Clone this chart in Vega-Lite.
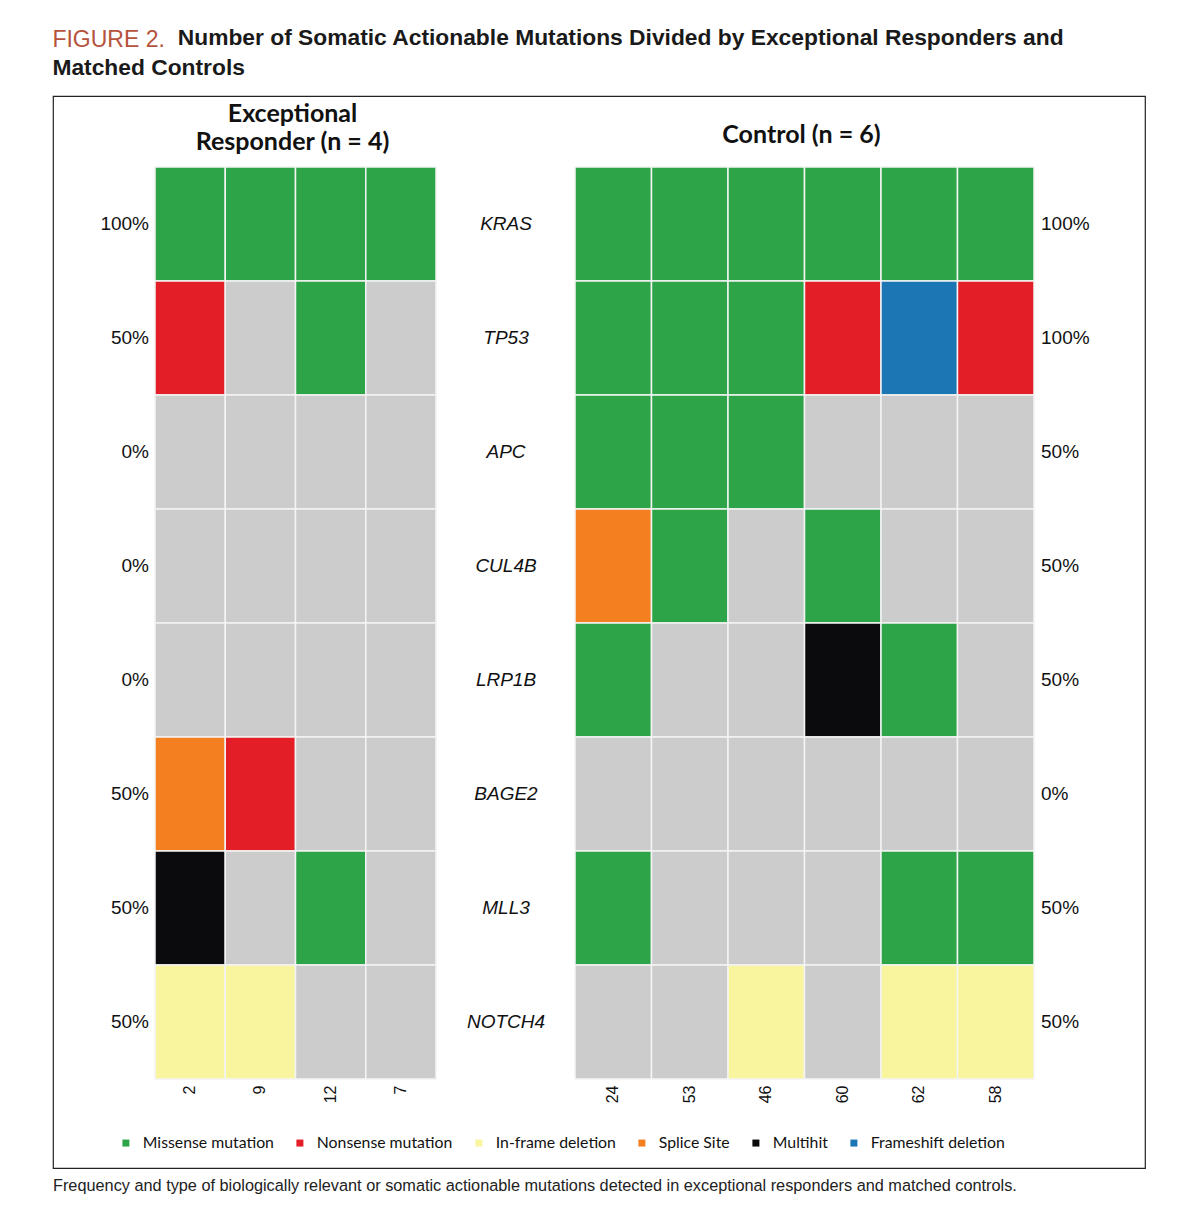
{
  "$schema": "https://vega.github.io/schema/vega-lite/v6.json",
  "background": "white",
  "padding": {"left": 52, "top": 26, "right": 0, "bottom": 0},
  "datasets": {
    "cells": [
      {"group": "ER", "patient": "2", "gene": "KRAS", "type": "Missense mutation"},
      {"group": "ER", "patient": "9", "gene": "KRAS", "type": "Missense mutation"},
      {"group": "ER", "patient": "12", "gene": "KRAS", "type": "Missense mutation"},
      {"group": "ER", "patient": "7", "gene": "KRAS", "type": "Missense mutation"},
      {"group": "ER", "patient": "2", "gene": "TP53", "type": "Nonsense mutation"},
      {"group": "ER", "patient": "9", "gene": "TP53", "type": "None"},
      {"group": "ER", "patient": "12", "gene": "TP53", "type": "Missense mutation"},
      {"group": "ER", "patient": "7", "gene": "TP53", "type": "None"},
      {"group": "ER", "patient": "2", "gene": "APC", "type": "None"},
      {"group": "ER", "patient": "9", "gene": "APC", "type": "None"},
      {"group": "ER", "patient": "12", "gene": "APC", "type": "None"},
      {"group": "ER", "patient": "7", "gene": "APC", "type": "None"},
      {"group": "ER", "patient": "2", "gene": "CUL4B", "type": "None"},
      {"group": "ER", "patient": "9", "gene": "CUL4B", "type": "None"},
      {"group": "ER", "patient": "12", "gene": "CUL4B", "type": "None"},
      {"group": "ER", "patient": "7", "gene": "CUL4B", "type": "None"},
      {"group": "ER", "patient": "2", "gene": "LRP1B", "type": "None"},
      {"group": "ER", "patient": "9", "gene": "LRP1B", "type": "None"},
      {"group": "ER", "patient": "12", "gene": "LRP1B", "type": "None"},
      {"group": "ER", "patient": "7", "gene": "LRP1B", "type": "None"},
      {"group": "ER", "patient": "2", "gene": "BAGE2", "type": "Splice Site"},
      {"group": "ER", "patient": "9", "gene": "BAGE2", "type": "Nonsense mutation"},
      {"group": "ER", "patient": "12", "gene": "BAGE2", "type": "None"},
      {"group": "ER", "patient": "7", "gene": "BAGE2", "type": "None"},
      {"group": "ER", "patient": "2", "gene": "MLL3", "type": "Multihit"},
      {"group": "ER", "patient": "9", "gene": "MLL3", "type": "None"},
      {"group": "ER", "patient": "12", "gene": "MLL3", "type": "Missense mutation"},
      {"group": "ER", "patient": "7", "gene": "MLL3", "type": "None"},
      {"group": "ER", "patient": "2", "gene": "NOTCH4", "type": "In-frame deletion"},
      {"group": "ER", "patient": "9", "gene": "NOTCH4", "type": "In-frame deletion"},
      {"group": "ER", "patient": "12", "gene": "NOTCH4", "type": "None"},
      {"group": "ER", "patient": "7", "gene": "NOTCH4", "type": "None"},

      {"group": "Control", "patient": "24", "gene": "KRAS", "type": "Missense mutation"},
      {"group": "Control", "patient": "53", "gene": "KRAS", "type": "Missense mutation"},
      {"group": "Control", "patient": "46", "gene": "KRAS", "type": "Missense mutation"},
      {"group": "Control", "patient": "60", "gene": "KRAS", "type": "Missense mutation"},
      {"group": "Control", "patient": "62", "gene": "KRAS", "type": "Missense mutation"},
      {"group": "Control", "patient": "58", "gene": "KRAS", "type": "Missense mutation"},
      {"group": "Control", "patient": "24", "gene": "TP53", "type": "Missense mutation"},
      {"group": "Control", "patient": "53", "gene": "TP53", "type": "Missense mutation"},
      {"group": "Control", "patient": "46", "gene": "TP53", "type": "Missense mutation"},
      {"group": "Control", "patient": "60", "gene": "TP53", "type": "Nonsense mutation"},
      {"group": "Control", "patient": "62", "gene": "TP53", "type": "Frameshift deletion"},
      {"group": "Control", "patient": "58", "gene": "TP53", "type": "Nonsense mutation"},
      {"group": "Control", "patient": "24", "gene": "APC", "type": "Missense mutation"},
      {"group": "Control", "patient": "53", "gene": "APC", "type": "Missense mutation"},
      {"group": "Control", "patient": "46", "gene": "APC", "type": "Missense mutation"},
      {"group": "Control", "patient": "60", "gene": "APC", "type": "None"},
      {"group": "Control", "patient": "62", "gene": "APC", "type": "None"},
      {"group": "Control", "patient": "58", "gene": "APC", "type": "None"},
      {"group": "Control", "patient": "24", "gene": "CUL4B", "type": "Splice Site"},
      {"group": "Control", "patient": "53", "gene": "CUL4B", "type": "Missense mutation"},
      {"group": "Control", "patient": "46", "gene": "CUL4B", "type": "None"},
      {"group": "Control", "patient": "60", "gene": "CUL4B", "type": "Missense mutation"},
      {"group": "Control", "patient": "62", "gene": "CUL4B", "type": "None"},
      {"group": "Control", "patient": "58", "gene": "CUL4B", "type": "None"},
      {"group": "Control", "patient": "24", "gene": "LRP1B", "type": "Missense mutation"},
      {"group": "Control", "patient": "53", "gene": "LRP1B", "type": "None"},
      {"group": "Control", "patient": "46", "gene": "LRP1B", "type": "None"},
      {"group": "Control", "patient": "60", "gene": "LRP1B", "type": "Multihit"},
      {"group": "Control", "patient": "62", "gene": "LRP1B", "type": "Missense mutation"},
      {"group": "Control", "patient": "58", "gene": "LRP1B", "type": "None"},
      {"group": "Control", "patient": "24", "gene": "BAGE2", "type": "None"},
      {"group": "Control", "patient": "53", "gene": "BAGE2", "type": "None"},
      {"group": "Control", "patient": "46", "gene": "BAGE2", "type": "None"},
      {"group": "Control", "patient": "60", "gene": "BAGE2", "type": "None"},
      {"group": "Control", "patient": "62", "gene": "BAGE2", "type": "None"},
      {"group": "Control", "patient": "58", "gene": "BAGE2", "type": "None"},
      {"group": "Control", "patient": "24", "gene": "MLL3", "type": "Missense mutation"},
      {"group": "Control", "patient": "53", "gene": "MLL3", "type": "None"},
      {"group": "Control", "patient": "46", "gene": "MLL3", "type": "None"},
      {"group": "Control", "patient": "60", "gene": "MLL3", "type": "None"},
      {"group": "Control", "patient": "62", "gene": "MLL3", "type": "Missense mutation"},
      {"group": "Control", "patient": "58", "gene": "MLL3", "type": "Missense mutation"},
      {"group": "Control", "patient": "24", "gene": "NOTCH4", "type": "None"},
      {"group": "Control", "patient": "53", "gene": "NOTCH4", "type": "None"},
      {"group": "Control", "patient": "46", "gene": "NOTCH4", "type": "In-frame deletion"},
      {"group": "Control", "patient": "60", "gene": "NOTCH4", "type": "None"},
      {"group": "Control", "patient": "62", "gene": "NOTCH4", "type": "In-frame deletion"},
      {"group": "Control", "patient": "58", "gene": "NOTCH4", "type": "In-frame deletion"}
    ],
    "genes": [
      {"gene": "KRAS", "er": "100%", "ctrl": "100%"},
      {"gene": "TP53", "er": "50%", "ctrl": "100%"},
      {"gene": "APC", "er": "0%", "ctrl": "50%"},
      {"gene": "CUL4B", "er": "0%", "ctrl": "50%"},
      {"gene": "LRP1B", "er": "0%", "ctrl": "50%"},
      {"gene": "BAGE2", "er": "50%", "ctrl": "0%"},
      {"gene": "MLL3", "er": "50%", "ctrl": "50%"},
      {"gene": "NOTCH4", "er": "50%", "ctrl": "50%"}
    ],
    "headers": [
      {"group": "ER", "label": "Exceptional\nResponder (n = 4)"},
      {"group": "Control", "label": "Control (n = 6)"}
    ]
  },
  "title": {
    "text": "FIGURE 2.",
    "subtitle": ["\u200b\u2002\u2002\u2002\u2002\u2002\u2002\u2002\u2002\u2002\u2002\u2002Number of Somatic Actionable Mutations Divided by Exceptional Responders and", "Matched Controls"],
    "anchor": "start",
    "font": "Liberation Sans",
    "fontSize": 23,
    "fontWeight": "normal",
    "color": "#b5533c",
    "subtitleFont": "Liberation Sans",
    "subtitleFontSize": 22.8,
    "subtitleFontWeight": "bold",
    "subtitleColor": "#1a1a1a",
    "subtitleLineHeight": 30,
    "subtitlePadding": -25,
    "offset": 14
  },
  "vconcat": [
    {
      "width": 1092,
      "height": 1072,
      "view": {"stroke": "#222222", "strokeWidth": 1.2},
      "title": {
        "text": "Frequency and type of biologically relevant or somatic actionable mutations detected in exceptional responders and matched controls.",
        "orient": "bottom",
        "anchor": "start",
        "font": "Liberation Sans",
        "fontSize": 16.3,
        "fontWeight": "normal",
        "color": "#222222",
        "offset": 10
      },
      "resolve": {"scale": {"x": "independent"}},
      "layer": [
        {
          "layer": [
            {
              "data": {"name": "cells"},
              "transform": [{"filter": "datum.group === 'ER'"}],
              "mark": {"type": "rect", "stroke": "#f4f4f4", "strokeWidth": 1.5},
              "encoding": {
                "x": {
                  "field": "patient", "type": "nominal",
                  "scale": {"domain": ["2", "9", "12", "7"], "paddingInner": 0, "paddingOuter": 0, "range": [102, 383]},
                  "axis": {"orient": "bottom", "offset": -89, "domain": false, "ticks": false, "labelAngle": 270, "labelPadding": 6, "labelFont": "Liberation Sans", "labelFontSize": 16, "labelColor": "#111111", "title": null}
                },
                "y": {
                  "field": "gene", "type": "nominal",
                  "scale": {"domain": ["KRAS", "TP53", "APC", "CUL4B", "LRP1B", "BAGE2", "MLL3", "NOTCH4"], "paddingInner": 0, "paddingOuter": 0.70175, "align": 0.44375},
                  "axis": null
                },
                "color": {
                  "field": "type", "type": "nominal",
                  "scale": {
                    "domain": ["Missense mutation", "Nonsense mutation", "In-frame deletion", "Splice Site", "Multihit", "Frameshift deletion", "None"],
                    "range": ["#2ea449", "#e31e26", "#f8f59e", "#f47f20", "#0b0b0d", "#1d76b4", "#cccccc"]
                  },
                  "legend": {
                    "orient": "none", "legendX": 65, "legendY": 1039, "direction": "horizontal", "columns": 6,
                    "title": null,
                    "values": ["Missense mutation", "Nonsense mutation", "In-frame deletion", "Splice Site", "Multihit", "Frameshift deletion"],
                    "symbolType": "square", "symbolSize": 49, "symbolStrokeWidth": 0,
                    "labelFont": "Lato", "labelFontSize": 15.8, "labelColor": "#111111", "labelOffset": 9, "columnPadding": 18
                  }
                }
              }
            },
            {
              "data": {"name": "genes"},
              "mark": {"type": "text", "align": "right", "baseline": "middle", "dx": -6, "font": "Liberation Sans", "fontSize": 19, "color": "#111111"},
              "encoding": {
                "x": {"datum": "2", "type": "nominal", "bandPosition": 0},
                "y": {"field": "gene", "type": "nominal"},
                "text": {"field": "er"}
              }
            },
            {
              "data": {"name": "genes"},
              "mark": {"type": "text", "align": "center", "baseline": "middle", "dx": 70, "font": "Liberation Sans", "fontStyle": "italic", "fontSize": 19, "color": "#111111"},
              "encoding": {
                "x": {"datum": "7", "type": "nominal", "bandPosition": 1},
                "y": {"field": "gene", "type": "nominal"},
                "text": {"field": "gene"}
              }
            },
            {
              "data": {"name": "headers"},
              "transform": [{"filter": "datum.group === 'ER'"}],
              "mark": {"type": "text", "align": "center", "baseline": "alphabetic", "dx": -3, "dy": -45, "lineBreak": "\n", "lineHeight": 28, "font": "Lato", "fontWeight": "bold", "fontSize": 25, "color": "#111111"},
              "encoding": {
                "x": {"datum": "12", "type": "nominal", "bandPosition": 0},
                "y": {"datum": "KRAS", "type": "nominal", "bandPosition": 0},
                "text": {"field": "label"}
              }
            }
          ]
        },
        {
          "layer": [
            {
              "data": {"name": "cells"},
              "transform": [{"filter": "datum.group === 'Control'"}],
              "mark": {"type": "rect", "stroke": "#f4f4f4", "strokeWidth": 1.5},
              "encoding": {
                "x": {
                  "field": "patient", "type": "nominal",
                  "scale": {"domain": ["24", "53", "46", "60", "62", "58"], "paddingInner": 0, "paddingOuter": 0, "range": [522, 981]},
                  "axis": {"orient": "bottom", "offset": -89, "domain": false, "ticks": false, "labelAngle": 270, "labelPadding": 6, "labelFont": "Liberation Sans", "labelFontSize": 16, "labelColor": "#111111", "title": null}
                },
                "y": {"field": "gene", "type": "nominal"},
                "color": {"field": "type", "type": "nominal"}
              }
            },
            {
              "data": {"name": "genes"},
              "mark": {"type": "text", "align": "left", "baseline": "middle", "dx": 7, "font": "Liberation Sans", "fontSize": 19, "color": "#111111"},
              "encoding": {
                "x": {"datum": "58", "type": "nominal", "bandPosition": 1},
                "y": {"field": "gene", "type": "nominal"},
                "text": {"field": "ctrl"}
              }
            },
            {
              "data": {"name": "headers"},
              "transform": [{"filter": "datum.group === 'Control'"}],
              "mark": {"type": "text", "align": "center", "baseline": "alphabetic", "dx": -3, "dy": -24, "font": "Lato", "fontWeight": "bold", "fontSize": 25, "color": "#111111"},
              "encoding": {
                "x": {"datum": "60", "type": "nominal", "bandPosition": 0},
                "y": {"datum": "KRAS", "type": "nominal", "bandPosition": 0},
                "text": {"field": "label"}
              }
            }
          ]
        }
      ]
    }
  ],
  "config": {
    "axis": {"grid": false},
    "legend": {"padding": 0}
  }
}
